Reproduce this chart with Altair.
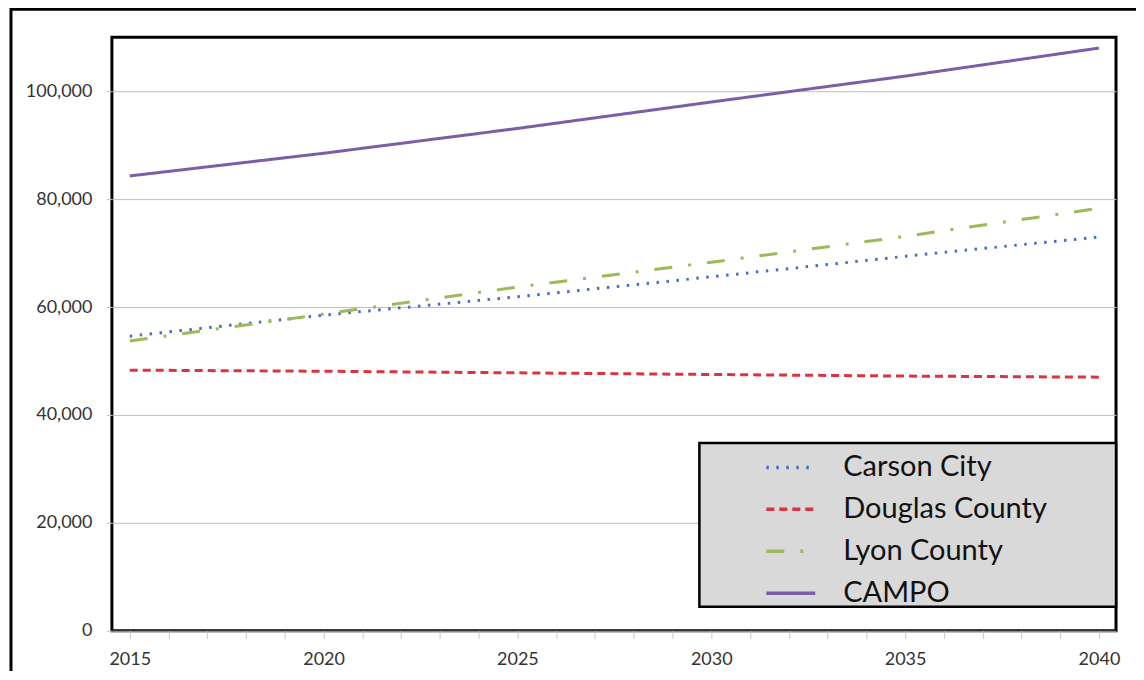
import altair as alt
import pandas as pd

years = [2015, 2020, 2025, 2030, 2035, 2040]
carson_city = [54600, 58500, 61900, 65600, 69400, 73000]
douglas_county = [48300, 48100, 47800, 47500, 47200, 47000]
lyon_county = [53700, 58700, 63700, 68300, 73100, 78300]
campo = [84300, 88500, 93100, 98000, 102800, 108000]

names = ["Carson City", "Douglas County", "Lyon County", "CAMPO"]
colors = ["#4a6fb8", "#d9343f", "#9bbb59", "#7b5ea7"]
dashes = [[2.5, 7.5], [8, 5], [18, 16, 3, 16], [1, 0]]

rows = []
for name, vals in zip(names, [carson_city, douglas_county, lyon_county, campo]):
    for yr, v in zip(years, vals):
        rows.append({"year": yr, "value": v, "series": name})
df = pd.DataFrame(rows)

tick_years = list(range(2015, 2041))
y_ticks = [0, 20000, 40000, 60000, 80000, 100000]

legend = alt.Legend(
    title=None,
    orient="none",
    legendX=653,
    legendY=404,
    padding=0,
    symbolType="stroke",
    symbolSize=2400,
    symbolStrokeWidth=3.5,
    labelFontSize=29,
    labelFont="Lato",
    labelColor="#111111",
    labelOffset=26,
    rowPadding=0,
    labelLimit=400,
)

lines = alt.Chart(df).mark_line(strokeWidth=3).encode(
    x=alt.X(
        "year:Q",
        scale=alt.Scale(domain=[2014.54, 2040.44], nice=False, zero=False),
        axis=alt.Axis(
            values=tick_years,
            labelExpr="datum.value % 5 == 0 ? datum.value : ''",
            grid=False,
            domain=False,
            tickColor="#c8c8c8",
            tickSize=8,
            labelPadding=12,
            labelFontSize=18,
            labelFont="Lato",
            labelColor="#333333",
            title=None,
        ),
    ),
    y=alt.Y(
        "value:Q",
        scale=alt.Scale(domain=[0, 110000], nice=False),
        axis=alt.Axis(
            values=y_ticks,
            format=",.0f",
            grid=True,
            gridColor="#bfbfbf",
            gridWidth=1,
            domain=False,
            tickColor="#c8c8c8",
            tickSize=6,
            labelPadding=14,
            labelFontSize=18,
            labelFont="Lato",
            labelColor="#333333",
            title=None,
        ),
    ),
    color=alt.Color("series:N", scale=alt.Scale(domain=names, range=colors), legend=legend),
    strokeDash=alt.StrokeDash("series:N", scale=alt.Scale(domain=names, range=dashes), legend=legend),
    order=alt.Order("year:Q"),
)

one = pd.DataFrame({"a": [0]})

frame = alt.Chart(one).mark_rect(fillOpacity=0, stroke="black", strokeWidth=3).encode(
    x=alt.value(-101), x2=alt.value(1100), y=alt.value(-28), y2=alt.value(700)
)

legend_box = alt.Chart(one).mark_rect(fill="#d9d9d9", stroke="black", strokeWidth=2.5).encode(
    x=alt.value(588), x2=alt.value(1005), y=alt.value(406), y2=alt.value(570)
)

chart = alt.layer(frame, lines, legend_box).properties(
    width=1005,
    height=594,
    autosize=alt.AutoSizeParams(type="none"),
    padding={"left": 104, "top": 29, "right": 20, "bottom": 40},
    background="white",
).configure_view(stroke="black", strokeWidth=3)

chart.save("out.html", embed_options={"renderer": "svg", "actions": False})
